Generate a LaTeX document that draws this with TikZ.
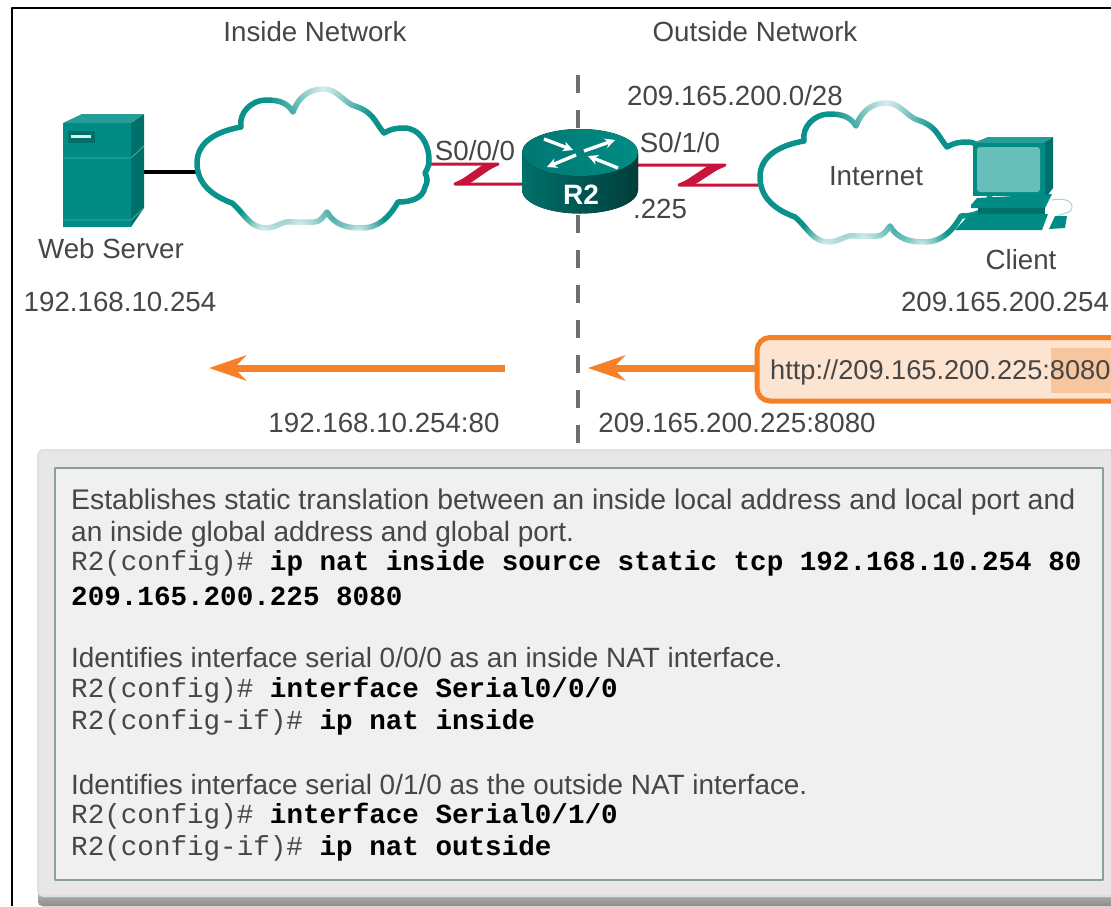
\documentclass[tikz,border=0pt]{standalone}
\usepackage{fontspec}
\setmainfont{Liberation Sans}
\setmonofont{Liberation Mono}
\usetikzlibrary{arrows.meta,fadings}
\definecolor{tealA}{RGB}{0,140,133}
\definecolor{tealB}{RGB}{0,112,106}
\definecolor{tealC}{RGB}{104,190,185}
\definecolor{cloudline}{RGB}{10,145,140}
\definecolor{serial}{RGB}{200,20,60}
\definecolor{flow}{RGB}{247,127,38}
\definecolor{urlfill}{RGB}{253,228,208}
\definecolor{urlmark}{RGB}{247,197,158}
\definecolor{inktext}{RGB}{70,70,70}
\definecolor{panelout}{RGB}{232,230,230}
\definecolor{panelin}{RGB}{240,240,240}
\definecolor{panelrim}{RGB}{140,160,155}
\tikzfading[name=softspot,inner color=transparent!15,outer color=transparent!100]
\newcommand{\cloudoutline}{(197,163) to[out=90,in=190] (241,127) to[out=100,in=180] (266,100) to[out=0,in=120] (293,112)
  to[out=70,in=180] (323,89) to[out=0,in=150] (352,105) to[out=-20,in=150] (364,110) to[out=-30,in=130] (384,133)
  to[out=30,in=180] (404,128) to[out=0,in=90] (429,160) to[out=-90,in=60] (425,173) to[out=-60,in=60] (425,187)
  to[out=-100,in=0] (398,202) to[out=-120,in=0] (361,228) to[out=180,in=-60] (327,212) to[out=-130,in=0] (314,222)
  to[out=180,in=0] (293,222) to[out=170,in=0] (266,228) to[out=180,in=-40] (232,203) to[out=160,in=-90] (197,163) -- cycle}
\newcommand{\drawcloud}{\draw[cloudedge] \cloudoutline;
  \foreach \x/\y/\r in {323/89/55,300/226/50,358/232/30,262/232/30}{\fill[white,path fading=softspot] (\x,\y) circle (\r);}}
\tikzset{
  lbl/.style={text=inktext,font=\fontsize{27.7}{32}\selectfont,inner sep=0pt},
  bodytxt/.style={lbl,anchor=base west},
  cmdtxt/.style={anchor=base west,inner sep=0pt,text=inktext,font=\fontsize{27.6}{32}\ttfamily},
  cloudedge/.style={draw=cloudline,fill=white,line width=5.5},
  seriallink/.style={draw=serial,line width=3},
  routerarrow/.style={white,line width=3.4,-{Stealth[length=10,width=10]}},
  flowarrow/.style={draw=flow,line width=7,line cap=butt,-{Stealth[length=37,width=25,inset=12]}}
}
\begin{document}
\begin{tikzpicture}[x=1pt,y=-1pt,line join=round]
	\clip (0,0) rectangle (1111,906);
	\fill[white] (0,0) rectangle (1111,906);
	\draw[black,line width=1.8] (12,906)--(12,8)--(1111,8);
	\coordinate (serverE) at (144,172);
	\coordinate (cloudW) at (197,172);
	\coordinate (cloudE) at (429,164);
	\coordinate (kinkA) at (498,164);
	\coordinate (kinkB) at (455,184);
	\coordinate (routerW) at (524,184);
	\coordinate (routerE) at (636,165);
	\coordinate (kinkC) at (725,165);
	\coordinate (kinkD) at (679,185);
	\coordinate (netW) at (760,185);
	\coordinate (splitT) at (577.5,75);
	\coordinate (splitB) at (577.5,448);
	\coordinate (flowL) at (505,368);
	\coordinate (flowLend) at (209,368);
	\coordinate (flowR) at (588,368);
	% dividing line
	\draw[draw=black!57,line width=4,dash pattern=on 18 off 17] (splitT)--(splitB);
	% links
	\draw[black,line width=4.5] (serverE)--(cloudW);
	\draw[seriallink] (cloudE)--(kinkA)--(kinkB)--(routerW);
	\fill[serial] (484,164)--(kinkA)--(469,184)--(kinkB)--cycle;
	\draw[seriallink] (routerE)--(kinkC)--(kinkD)--(netW);
	\fill[serial] (709,165)--(kinkC)--(694,185)--(kinkD)--cycle;
	% clouds
	\drawcloud
	\begin{scope}[shift={(563,14)}]
		\drawcloud
	\end{scope}
	% web server
	\fill[tealB] (131,123)--(144,114)--(144,208)--(131,227)--cycle;
	\fill[tealA!85!white] (63,123)--(82,114)--(144,114)--(131,123)--cycle;
	\fill[tealA] (63,123) rectangle (131,227);
	\draw[tealA!70!white,line width=0.8] (63,158)--(131,158)--(144,146) (63,220)--(131,220)--(144,208);
	\fill[tealB] (68,131) rectangle (95,143);
	\fill[white!85!tealA] (71,135) rectangle (91,138);
	% router
	\fill[left color=tealB,middle color=tealC!80!tealA,right color=tealB!55!black] (522,152.5)--(522,190) arc[start angle=180,end angle=0,x radius=58,y radius=23.5]--(638,152.5)--cycle;
	\fill[left color=tealA!85!black,right color=tealA] (580,152.5) ellipse[x radius=58,y radius=23.5];
	\foreach \tx/\ty/\hx/\hy in {544/139/573/150,584/151/615/140,576/155/547/167,618/168/588/156}{
		\draw[routerarrow] (\tx,\ty)--(\hx,\hy);}
	\node[text=white,font=\fontsize{28}{32}\selectfont\bfseries,inner sep=0pt] (routerlbl) at (581,195) {R2};
	% client
	\draw[tealC!60!white,line width=1] (1052,200) to[out=10,in=90] (1072,207) to[out=-90,in=40] (1056,217);
	\fill[tealB] (1043,143)--(1053,137)--(1053,188)--(1047,196)--(1043,196)--cycle;
	\fill[tealA!85!white] (973,143)--(988,137)--(1053,137)--(1043,143)--cycle;
	\fill[tealA] (973,143) rectangle (1045,196);
	\fill[tealC,rounded corners=3] (977,147) rectangle (1040,192);
	\fill[tealA] (971,205)--(977,198)--(1052,194)--(1045,208)--(971,208)--cycle;
	\fill[tealB] (978,208) rectangle (1045,214);
	\fill[tealA] (955,230)--(970,214)--(1048,214)--(1042,230)--cycle;
	\fill[tealA] (1049,229)--(1065,228)--(1067,216)--(1055,216)--cycle;
	% labels
	\foreach \n/\x/\y/\t in {insideNet/315/32/Inside Network,outsideNet/755/32/Outside Network,webLbl/111/249/Web Server,webIP/120/302/192.168.10.254,
		sLeft/475/151/S0\slash 0\slash 0,netLbl/735/96/209.165.200.0\slash 28,sRight/680/143/S0\slash 1\slash 0,hostLbl/660/209/.225,inetLbl/876/176/Internet,
		clientLbl/1021/260/Client,clientIP/1005/302/209.165.200.254,localAddr/384/423/192.168.10.254:80,globalAddr/737/423/209.165.200.225:8080}{
		\node[lbl] (\n) at (\x,\y) {\t};}
	% browser box and flows
	\draw[draw=flow,fill=urlfill,line width=5,rounded corners=13] (757,337.5) rectangle (1150,401);
	\fill[urlmark] (1051,348) rectangle (1111,393);
	\node[bodytxt,font=\fontsize{27.2}{32}\selectfont] (url) at (770,379) {http://209.165.200.225:8080};
	\coordinate (urlW) at (755,368);
	\draw[flowarrow] (urlW)--(flowR);
	\draw[flowarrow] (flowL)--(flowLend);
	% panel
	\fill[bottom color=black!45,top color=black!15,rounded corners=5] (38,880) rectangle (1130,906);
	\draw[draw=black!12,line width=2,fill=panelout,rounded corners=6] (38,450) rectangle (1130,896);
	\draw[draw=panelrim,fill=panelin,line width=2.5] (55,468) rectangle (1103,880);
	\foreach \n/\y/\s/\t in {noteA/509/28.4/{Establishes static translation between an inside local address and local port and},noteB/541/28/{an inside global address and global port.},
		noteC/667/27.9/{Identifies interface serial 0\slash 0\slash 0 as an inside NAT interface.},noteD/794/27.9/{Identifies interface serial 0\slash 1\slash 0 as the outside NAT interface.}}{
		\node[bodytxt,font=\fontsize{\s}{32}\selectfont] (\n) at (71,\y) {\t};}
	\foreach \n/\y/\p/\c in {cmdA/570/R2(config)\#/{ip nat inside source static tcp 192.168.10.254 80},cmdB/697/R2(config)\#/{interface Serial0\slash 0\slash 0},cmdC/729/R2(config-if)\#/{ip nat inside},
		cmdD/823/R2(config)\#/{interface Serial0\slash 1\slash 0},cmdE/855/R2(config-if)\#/{ip nat outside}}{
		\node[cmdtxt] (\n) at (71,\y) {\p{} \textbf{\textcolor{black}{\c}}};}
	\node[cmdtxt,text=black,font=\fontsize{27.6}{32}\ttfamily\bfseries] (cmdAb) at (71,605) {209.165.200.225 8080};
\end{tikzpicture}
\end{document}
